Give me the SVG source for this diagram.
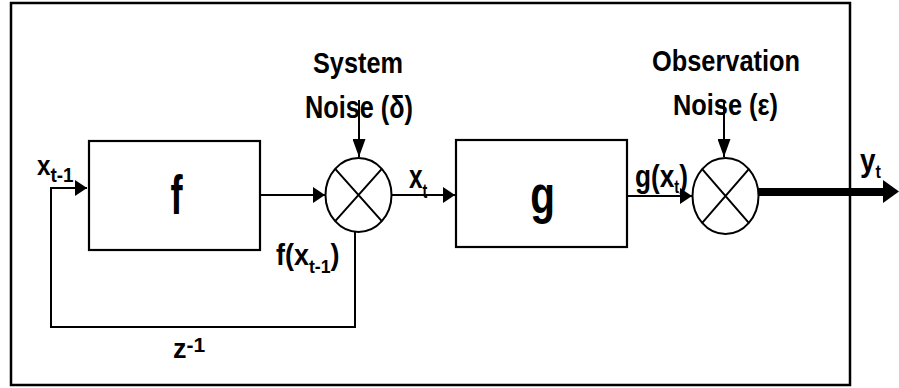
<svg xmlns="http://www.w3.org/2000/svg" width="899" height="388" viewBox="0 0 899 388">
<defs>
<style>
.ln{stroke:#000;stroke-width:2;fill:none}
.bx{stroke:#000;stroke-width:2.2;fill:#fff}
.t{font-family:"Liberation Sans","Arial",sans-serif;font-weight:bold;fill:#000}
</style>
<marker id="arr" markerUnits="userSpaceOnUse" markerWidth="12" markerHeight="16" refX="12" refY="8" orient="auto">
<path d="M0,0 L12,8 L0,16 Z" fill="#000"/>
</marker>
<marker id="arrN" markerUnits="userSpaceOnUse" markerWidth="18" markerHeight="13" refX="18" refY="6.5" orient="auto">
<path d="M0,0 L18,6.5 L0,13 Z" fill="#000"/>
</marker>
</defs>
<rect width="899" height="388" fill="#fff"/>
<rect x="11" y="3" width="839" height="382" fill="none" stroke="#000" stroke-width="2.5"/>

<g id="connectors">
<path class="ln" d="M355,232 V327 H51 V188 H87" marker-end="url(#arr)"/>
<path class="ln" d="M260,195 H325" marker-end="url(#arr)"/>
<path class="ln" d="M392,195 H455" marker-end="url(#arr)"/>
<path class="ln" d="M627,196 H692" marker-end="url(#arr)"/>
<path class="ln" d="M359,100 V157" marker-end="url(#arrN)"/>
<path class="ln" stroke-width="1.6" d="M724,100 V157" marker-end="url(#arrN)"/>
<path d="M758,192 H884" stroke="#000" stroke-width="8" fill="none"/>
<polygon points="883,180 899,191.5 883,203" fill="#000"/>
</g>

<g id="node-f">
<rect class="bx" x="89" y="141" width="171" height="109"/>
<text class="t" font-size="56" text-anchor="middle" transform="translate(176.5,214) scale(0.65,1)">f</text>
</g>

<g id="node-sum1">
<ellipse class="ln" cx="358.5" cy="195" rx="33" ry="37"/>
<path class="ln" d="M335.2,168.8 L381.8,221.2 M381.8,168.8 L335.2,221.2"/>
</g>

<g id="node-g">
<rect class="bx" x="456" y="140" width="171" height="107"/>
<text class="t" font-size="54" text-anchor="middle" transform="translate(542.5,213) scale(0.75,1)">g</text>
</g>

<g id="node-sum2">
<ellipse class="ln" cx="725.5" cy="196" rx="33" ry="38"/>
<path class="ln" d="M702.2,169.1 L748.8,222.9 M748.8,169.1 L702.2,222.9"/>
</g>

<g id="labels">
<text class="t" font-size="30" x="358" y="73" text-anchor="middle" textLength="90" lengthAdjust="spacingAndGlyphs">System</text>
<text class="t" font-size="31" x="359" y="118" text-anchor="middle" textLength="108" lengthAdjust="spacingAndGlyphs">Noise (δ)</text>
<text class="t" font-size="30" x="726" y="71" text-anchor="middle" textLength="148" lengthAdjust="spacingAndGlyphs">Observation</text>
<text class="t" font-size="30" x="725.5" y="115" text-anchor="middle" textLength="105" lengthAdjust="spacingAndGlyphs">Noise (ε)</text>

<text class="t" transform="translate(37,175) scale(0.9,1)"><tspan font-size="27">x</tspan><tspan font-size="21" dy="7">t-1</tspan></text>
<text class="t" transform="translate(276,265) scale(0.93,1)"><tspan font-size="29">f(x</tspan><tspan font-size="19" dy="8">t-1</tspan><tspan font-size="29" dy="-8">)</tspan></text>
<text class="t" transform="translate(409,188) scale(0.72,1)"><tspan font-size="34">x</tspan><tspan font-size="20" dy="10">t</tspan></text>
<text class="t" transform="translate(635,187) scale(0.82,1)"><tspan font-size="32">g(x</tspan><tspan font-size="18" dy="6">t</tspan><tspan font-size="32" dy="-6">)</tspan></text>
<text class="t" transform="translate(860,171) scale(0.9,1)"><tspan font-size="31">y</tspan><tspan font-size="18" dy="7">t</tspan></text>
<text class="t" transform="translate(173,358)"><tspan font-size="27">z</tspan><tspan font-size="21" dy="-6">-1</tspan></text>
</g>
</svg>
